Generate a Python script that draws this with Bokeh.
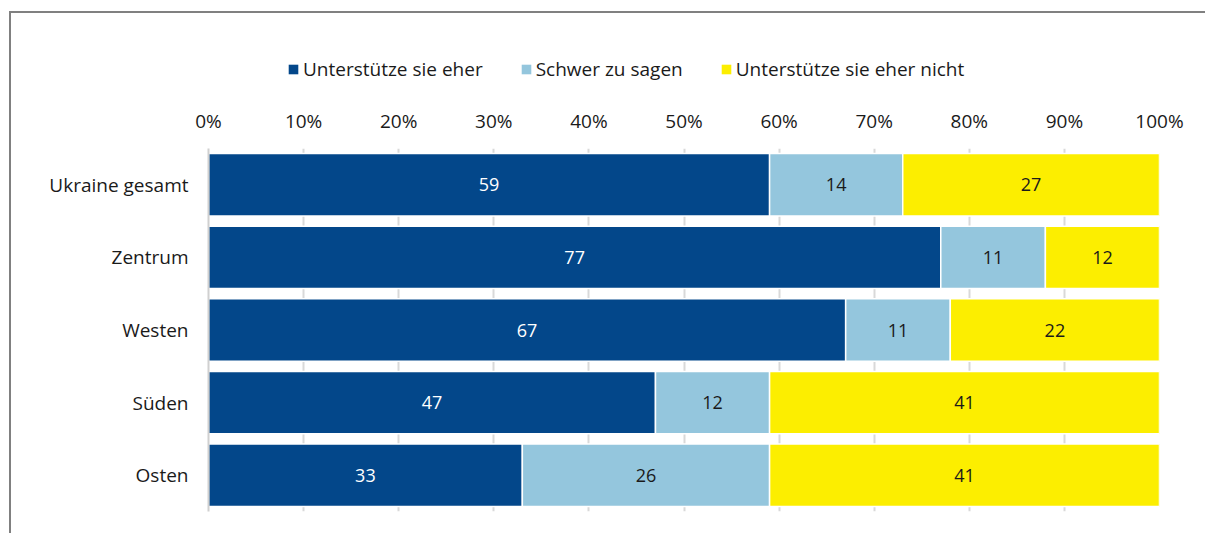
from bokeh.plotting import figure
from bokeh.layouts import column
from bokeh.models import FactorRange, Legend, LegendItem, ColumnDataSource, FixedTicker, CustomJSTickFormatter
from bokeh.core.properties import value
from bokeh.embed import file_html
from bokeh.resources import INLINE

categories = ["Ukraine gesamt", "Zentrum", "Westen", "Süden", "Osten"]
support = [59, 77, 67, 47, 33]
hard_to_say = [14, 11, 11, 12, 26]
no_support = [27, 12, 22, 41, 41]
series_names = ["Unterstütze sie eher", "Schwer zu sagen", "Unterstütze sie eher nicht"]
colors = ["#03478A", "#94C6DD", "#FCEE00"]
label_colors = ["white", "#1a1a1a", "#1a1a1a"]
ticks = [0, 10, 20, 30, 40, 50, 60, 70, 80, 90, 100]

FONT = "Open Sans"
W = 1194

# ---------- main chart ----------
source = ColumnDataSource(dict(cat=categories, s0=support, s1=hard_to_say, s2=no_support))

p = figure(
    y_range=FactorRange(*reversed(categories)),
    x_range=(0, 100),
    width=W, height=440,
    output_backend="svg", toolbar_location=None,
    x_axis_location="above",
    min_border_left=197, min_border_right=46, min_border_top=55, min_border_bottom=22,
)
p.outline_line_color = None

renderers = p.hbar_stack(["s0", "s1", "s2"], y="cat", height=0.86, color=colors,
                         line_color="white", line_width=1.5, source=source)

series = [support, hard_to_say, no_support]
for i in range(3):
    vals = series[i]
    prev = [0] * len(categories)
    for j in range(i):
        prev = [a + b for a, b in zip(prev, series[j])]
    centers = [a + b / 2 for a, b in zip(prev, vals)]
    ls = ColumnDataSource(dict(x=centers, y=categories, t=[str(v) for v in vals]))
    p.text(x="x", y="y", text="t", source=ls, text_align="center", text_baseline="middle",
           text_color=label_colors[i], text_font=value(FONT), text_font_size="18px")

p.xaxis.ticker = FixedTicker(ticks=ticks)
p.xaxis.formatter = CustomJSTickFormatter(code="return tick + '%'")
p.xaxis.axis_line_color = None
p.xaxis.major_tick_line_color = None
p.xaxis.minor_tick_line_color = None
p.xaxis.major_label_text_font = FONT
p.xaxis.major_label_text_font_size = "19px"
p.xaxis.major_label_text_color = "#1a1a1a"
p.xaxis.major_label_standoff = 9

p.yaxis.axis_line_color = "#d0d0d0"
p.yaxis.axis_line_width = 2
p.yaxis.major_tick_line_color = None
p.yaxis.minor_tick_line_color = None
p.yaxis.major_label_text_font = FONT
p.yaxis.major_label_text_font_size = "19px"
p.yaxis.major_label_text_color = "#1a1a1a"
p.yaxis.major_label_standoff = 14

p.xgrid.ticker = FixedTicker(ticks=ticks)
p.xgrid.grid_line_color = "#d9d9d9"
p.xgrid.grid_line_width = 2
p.ygrid.grid_line_color = None

# ---------- legend strip (frame aligned with main chart) ----------
lg = figure(width=W, height=80, output_backend="svg", toolbar_location=None,
            x_range=(0, 100), y_range=FactorRange(*categories), min_border=0)
lg.axis.visible = False
lg.grid.visible = False
lg.outline_line_color = None
lg_renderers = lg.hbar_stack(["s0", "s1", "s2"], y="cat", height=0.5, color=colors,
                             line_color=None, source=source)
for r in lg_renderers:
    r.visible = False

legend = Legend(
    items=[LegendItem(label=n, renderers=[r]) for n, r in zip(series_names, lg_renderers)],
    orientation="horizontal", location=(79, 11), click_policy="none",
    label_text_font=FONT, label_text_font_size="19px", label_text_color="#1a1a1a",
    glyph_width=12, glyph_height=12, label_standoff=4, spacing=37,
    padding=0, margin=0, border_line_color=None, background_fill_alpha=0,
)
lg.add_layout(legend, "center")

layout = column(lg, p, spacing=0)
layout.styles = {"border-left": "2px solid #808080", "border-top": "2px solid #808080",
                 "margin-top": "11px", "margin-left": "9px"}

open("out.html", "w").write(file_html(layout, INLINE))
